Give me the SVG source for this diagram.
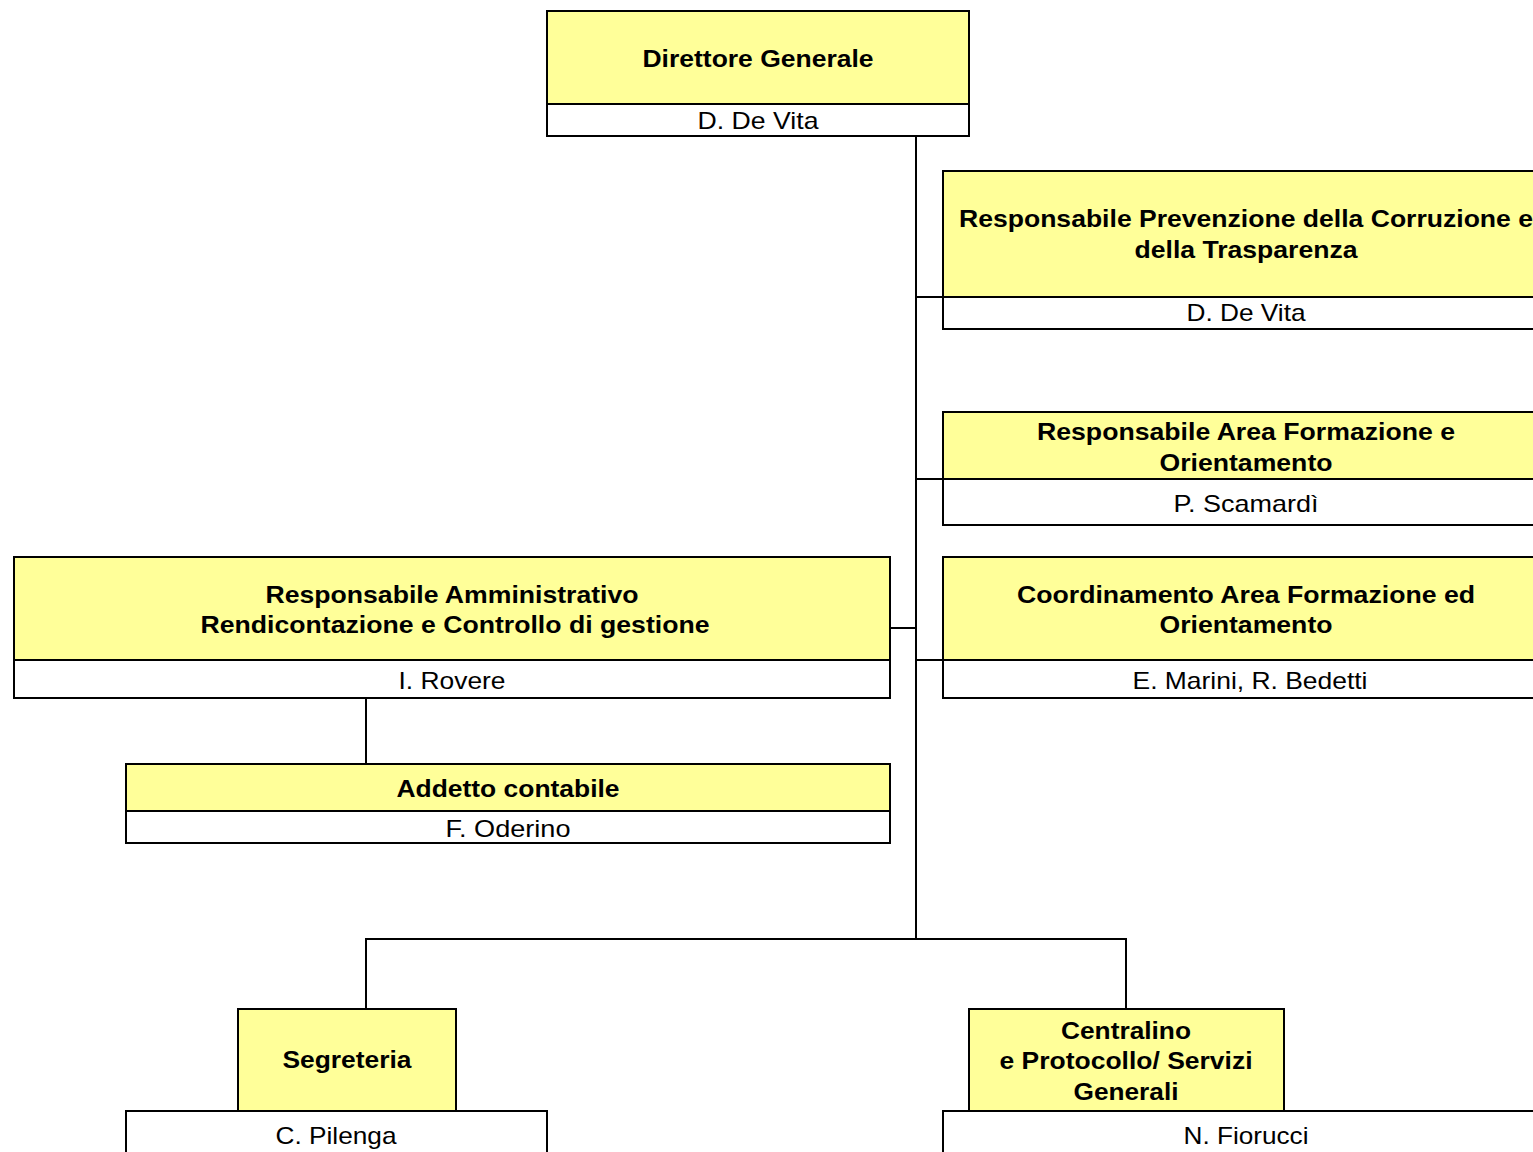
<svg xmlns="http://www.w3.org/2000/svg" width="1533" height="1152" viewBox="0 0 1533 1152">
<style>
.y{fill:#FFFF99;stroke:#000;stroke-width:2}
.w{fill:#FFFFFF;stroke:#000;stroke-width:2}
.b{font-family:"Liberation Sans",Arial,sans-serif;font-weight:bold;font-size:24px;fill:#000;text-anchor:middle}
.r{font-family:"Liberation Sans",Arial,sans-serif;font-size:24px;fill:#000;text-anchor:middle}
.c{fill:none;stroke:#000;stroke-width:2}
</style>
<rect width="1533" height="1152" fill="#FFFFFF"/>
<g id="connectors">
<path class="c" d="M916 136V939"/>
<path class="c" d="M916 297H943"/>
<path class="c" d="M916 479H943"/>
<path class="c" d="M916 660H943"/>
<path class="c" d="M890 628H916"/>
<path class="c" d="M366 698V764"/>
<path class="c" d="M366 1009V939H1126V1009"/>
</g>
<g id="direttore">
<rect class="y" x="547" y="11" width="422" height="93"/>
<rect class="w" x="547" y="104" width="422" height="32"/>
<text class="b" x="758" y="67" textLength="231" lengthAdjust="spacingAndGlyphs">Direttore Generale</text>
<text class="r" x="758" y="129" textLength="121" lengthAdjust="spacingAndGlyphs">D. De Vita</text>
</g>
<g id="rpct">
<rect class="y" x="943" y="171" width="606" height="126"/>
<rect class="w" x="943" y="297" width="606" height="32"/>
<text class="b" x="1246" y="227" textLength="574" lengthAdjust="spacingAndGlyphs">Responsabile Prevenzione della Corruzione e</text>
<text class="b" x="1246" y="258" textLength="223" lengthAdjust="spacingAndGlyphs">della Trasparenza</text>
<text class="r" x="1246" y="321" textLength="119" lengthAdjust="spacingAndGlyphs">D. De Vita</text>
</g>
<g id="resp-area">
<rect class="y" x="943" y="412" width="606" height="67"/>
<rect class="w" x="943" y="479" width="606" height="46"/>
<text class="b" x="1246" y="440" textLength="418" lengthAdjust="spacingAndGlyphs">Responsabile Area Formazione e</text>
<text class="b" x="1246" y="471" textLength="173" lengthAdjust="spacingAndGlyphs">Orientamento</text>
<text class="r" x="1246" y="512" textLength="145" lengthAdjust="spacingAndGlyphs">P. Scamardì</text>
</g>
<g id="coordinamento">
<rect class="y" x="943" y="557" width="606" height="103"/>
<rect class="w" x="943" y="660" width="606" height="38"/>
<text class="b" x="1246" y="603" textLength="458" lengthAdjust="spacingAndGlyphs">Coordinamento Area Formazione ed</text>
<text class="b" x="1246" y="633" textLength="173" lengthAdjust="spacingAndGlyphs">Orientamento</text>
<text class="r" x="1250" y="689" textLength="235" lengthAdjust="spacingAndGlyphs">E. Marini, R. Bedetti</text>
</g>
<g id="resp-amm">
<rect class="y" x="14" y="557" width="876" height="103"/>
<rect class="w" x="14" y="660" width="876" height="38"/>
<text class="b" x="452" y="603" textLength="373" lengthAdjust="spacingAndGlyphs">Responsabile Amministrativo</text>
<text class="b" x="455" y="633" textLength="509" lengthAdjust="spacingAndGlyphs">Rendicontazione e Controllo di gestione</text>
<text class="r" x="452" y="689" textLength="107" lengthAdjust="spacingAndGlyphs">I. Rovere</text>
</g>
<g id="addetto">
<rect class="y" x="126" y="764" width="764" height="47"/>
<rect class="w" x="126" y="811" width="764" height="32"/>
<text class="b" x="508" y="797" textLength="223" lengthAdjust="spacingAndGlyphs">Addetto contabile</text>
<text class="r" x="508" y="837" textLength="125" lengthAdjust="spacingAndGlyphs">F. Oderino</text>
</g>
<g id="segreteria">
<rect class="w" x="126" y="1111" width="421" height="60"/>
<rect class="y" x="238" y="1009" width="218" height="102"/>
<text class="b" x="347" y="1068" textLength="129" lengthAdjust="spacingAndGlyphs">Segreteria</text>
<text class="r" x="336" y="1144" textLength="121" lengthAdjust="spacingAndGlyphs">C. Pilenga</text>
</g>
<g id="centralino">
<rect class="w" x="943" y="1111" width="606" height="60"/>
<rect class="y" x="969" y="1009" width="315" height="102"/>
<text class="b" x="1126" y="1039" textLength="130" lengthAdjust="spacingAndGlyphs">Centralino</text>
<text class="b" x="1126" y="1069" textLength="253" lengthAdjust="spacingAndGlyphs">e Protocollo/ Servizi</text>
<text class="b" x="1126" y="1100" textLength="105" lengthAdjust="spacingAndGlyphs">Generali</text>
<text class="r" x="1246" y="1144" textLength="125" lengthAdjust="spacingAndGlyphs">N. Fiorucci</text>
</g>
</svg>
